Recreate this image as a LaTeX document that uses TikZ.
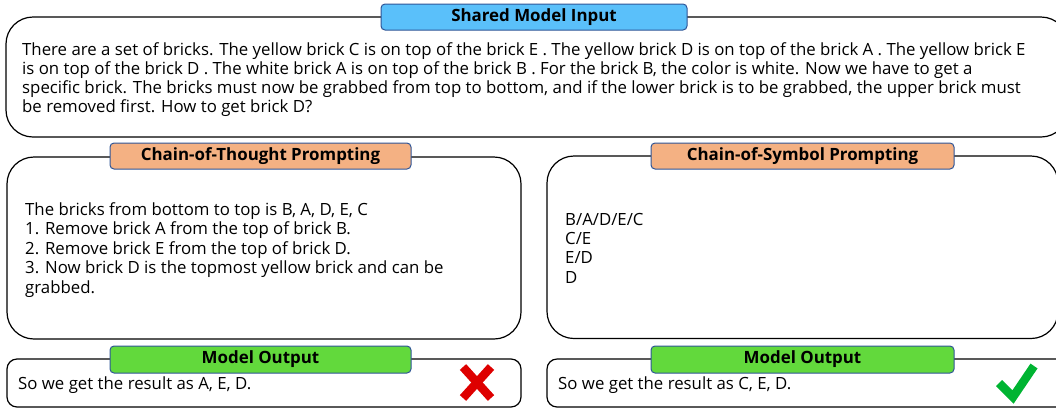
\documentclass[tikz,border=0pt]{standalone}
\usepackage{fontspec}
\setmainfont{Open Sans}
\definecolor{titleblue}{RGB}{90,192,250}
\definecolor{titleorange}{RGB}{244,177,131}
\definecolor{titlegreen}{RGB}{98,217,60}
\definecolor{titleborder}{RGB}{47,85,151}
\definecolor{crossred}{RGB}{222,0,0}
\definecolor{checkgreen}{RGB}{0,180,50}
\begin{document}
\begin{tikzpicture}[x=1pt,y=-1pt,
  bigbox/.style={draw=black, line width=1.2pt, rounded corners=27pt, fill=white, inner sep=0pt},
  outbox/.style={draw=black, line width=1.2pt, rounded corners=10pt, fill=white, inner sep=0pt},
  titlebox/.style={draw=titleborder, line width=1pt, rounded corners=4pt, inner sep=0pt,
     font=\bfseries\fontsize{16.9}{19}\selectfont},
  txt/.style={anchor=base west, inner sep=0pt, font=\fontsize{16.8}{19}\selectfont}]
\useasboundingbox (0,0) rectangle (1056,408);

% big boxes
\node[bigbox, minimum width=1062pt, minimum height=120pt] (input) at (537,77) {};
\node[bigbox, minimum width=514pt, minimum height=182pt] (cot) at (264,248) {};
\node[bigbox, minimum width=511pt, minimum height=182.5pt] (cos) at (802.5,247.25) {};
\node[outbox, minimum width=514pt, minimum height=48pt] (outl) at (264,383) {};
\node[outbox, minimum width=520pt, minimum height=48pt] (outr) at (807,383) {};

% titles
\node[titlebox, fill=titleblue, minimum width=306pt, minimum height=26pt] (tin) at (534,17) {Shared Model Input};
\node[titlebox, fill=titleorange, minimum width=301pt, minimum height=26pt] (tcot) at (260.5,156) {Chain-of-Thought Prompting};
\node[titlebox, fill=titleorange, minimum width=303pt, minimum height=26pt] (tcos) at (802.5,156) {Chain-of-Symbol Prompting};
\node[titlebox, fill=titlegreen, minimum width=301pt, minimum height=27pt] (toutl) at (260.5,359.5) {Model Output};
\node[titlebox, fill=titlegreen, minimum width=303pt, minimum height=27pt] (toutr) at (802.5,359.5) {Model Output};

% input text
\node[txt] (in1) at (22,55) {There are a set of bricks. The yellow brick C is on top of the brick E . The yellow brick D is on top of the brick A . The yellow brick E};
\node[txt] (in2) at (22,74) {is on top of the brick D . The white brick A is on top of the brick B . For the brick B, the color is white. Now we have to get a};
\node[txt] (in3) at (22,93) {specific brick. The bricks must now be grabbed from top to bottom, and if the lower brick is to be grabbed, the upper brick must};
\node[txt] (in4) at (22,112) {be removed first. How to get brick D?};

% CoT text
\node[txt] (c1) at (25,215) {The bricks from bottom to top is B, A, D, E, C};
\node[txt] (c2) at (25,234.5) {1. Remove brick A from the top of brick B.};
\node[txt] (c3) at (25,254) {2. Remove brick E from the top of brick D.};
\node[txt] (c4) at (25,273.5) {3. Now brick D is the topmost yellow brick and can be};
\node[txt] (c5) at (25,293) {grabbed.};

% CoS text
\node[txt] (s1) at (565,225) {B/A/D/E/C};
\node[txt] (s2) at (565,244.3) {C/E};
\node[txt] (s3) at (565,263.6) {E/D};
\node[txt] (s4) at (565,283) {D};

% outputs
\node[txt] (o1) at (18,389) {So we get the result as A, E, D.};
\node[txt] (o2) at (558,389) {So we get the result as C, E, D.};

% cross
\draw[crossred, line width=8.5pt] (463,367) -- (491,398);
\draw[crossred, line width=8.5pt] (491,367) -- (463,398);
% check
\draw[checkgreen, line width=8.5pt, line join=miter] (999,383) -- (1013,397) -- (1034,366);
\end{tikzpicture}
\end{document}
